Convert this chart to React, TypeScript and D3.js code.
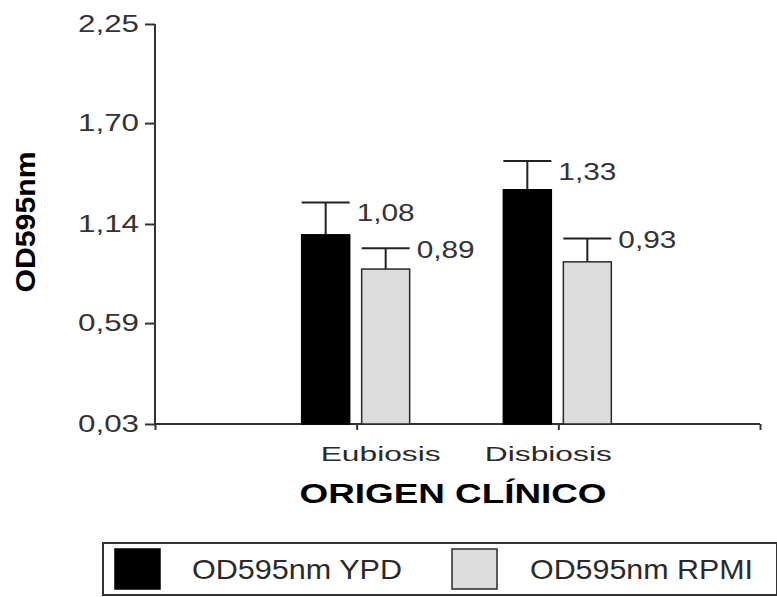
import React, { useEffect, useRef } from "react";
import * as d3 from "d3";

// chart values
const categories = ["Eubiosis", "Disbiosis"];
const seriesNames = ["OD595nm YPD", "OD595nm RPMI"];
const ypdValues = [1.08, 1.33];
const rpmiValues = [0.89, 0.93];
const ypdErrors = [0.18, 0.16];
const rpmiErrors = [0.115, 0.13];
const yTicks = [0.03, 0.59, 1.14, 1.7, 2.25];

const FONT = "'Liberation Sans', Arial, sans-serif";

export default function App() {
  const ref = useRef<SVGSVGElement>(null);

  useEffect(() => {
    const svg = d3.select(ref.current);
    svg.selectAll("*").remove();

    const fmt = d3.formatLocale({ decimal: ",", thousands: ".", grouping: [3], currency: ["", ""] }).format(".2f");

    // scales
    const y = d3.scaleLinear().domain([0.03, 2.25]).range([424, 24]);
    const x = d3.scaleLinear().domain([0, 3]).range([155, 760]);
    const sub = d3.scaleBand().domain(seriesNames).range([-55, 53]).paddingInner(0.2);

    const series = [
      { name: seriesNames[0], values: ypdValues, errors: ypdErrors, fill: "#000", stroke: "#000", labelDy: 19 },
      { name: seriesNames[1], values: rpmiValues, errors: rpmiErrors, fill: "#dcdcdc", stroke: "#2a2a2a", labelDy: 10 },
    ];

    // y axis
    const yAxis = svg.append("g").attr("transform", "translate(155,0)")
      .call(d3.axisLeft(y).tickValues(yTicks).tickSize(10).tickPadding(6).tickFormat((d) => fmt(d as number)));
    yAxis.select(".domain").attr("d", "M0,24V424").attr("stroke", "#333").attr("stroke-width", 2);
    yAxis.selectAll(".tick line").attr("stroke", "#333").attr("stroke-width", 2);
    yAxis.selectAll(".tick text")
      .attr("font-family", FONT).attr("font-size", 23).attr("fill", "#333")
      .attr("textLength", 61).attr("lengthAdjust", "spacingAndGlyphs");

    // x axis
    const xAxis = svg.append("g").attr("transform", "translate(0,424)")
      .call(d3.axisBottom(x).tickValues([0, 1, 2, 3]).tickSize(6).tickFormat(() => ""));
    xAxis.select(".domain").attr("d", "M155,0H760").attr("stroke", "#333").attr("stroke-width", 2);
    xAxis.selectAll(".tick line").attr("stroke", "#333").attr("stroke-width", 2);

    // category labels
    const catShift = [24, -10];
    const catLen = [120, 127];
    svg.append("g").selectAll("text").data(categories).join("text")
      .attr("x", (d, i) => x(i + 1) + catShift[i])
      .attr("y", 461)
      .attr("text-anchor", "middle")
      .attr("font-family", FONT).attr("font-size", 21).attr("fill", "#2a2a2a")
      .attr("textLength", (d, i) => catLen[i]).attr("lengthAdjust", "spacingAndGlyphs")
      .text((d) => d);

    // bars, error bars, value labels
    series.forEach((s) => {
      const g = svg.append("g");
      const bx = (i: number) => x(i + 1) + (sub(s.name) as number);
      const bw = sub.bandwidth();

      g.selectAll(".err").data(s.values).join("line")
        .attr("x1", (d, i) => bx(i) + bw / 2).attr("x2", (d, i) => bx(i) + bw / 2)
        .attr("y1", (d) => y(d)).attr("y2", (d, i) => y(d + s.errors[i]))
        .attr("stroke", "#222").attr("stroke-width", 2);
      g.selectAll(".cap").data(s.values).join("line")
        .attr("x1", (d, i) => bx(i)).attr("x2", (d, i) => bx(i) + bw)
        .attr("y1", (d, i) => y(d + s.errors[i])).attr("y2", (d, i) => y(d + s.errors[i]))
        .attr("stroke", "#222").attr("stroke-width", 2);

      g.selectAll("rect").data(s.values).join("rect")
        .attr("x", (d, i) => bx(i)).attr("width", bw)
        .attr("y", (d) => y(d)).attr("height", (d) => y(0.03) - y(d))
        .attr("fill", s.fill).attr("stroke", s.stroke).attr("stroke-width", 1.5);

      g.selectAll("text").data(s.values).join("text")
        .attr("x", (d, i) => bx(i) + bw + 7)
        .attr("y", (d, i) => y(d + s.errors[i]) + s.labelDy)
        .attr("font-family", FONT).attr("font-size", 23).attr("fill", "#333")
        .attr("textLength", 58).attr("lengthAdjust", "spacingAndGlyphs")
        .text((d) => fmt(d));
    });

    // axis titles
    svg.append("text")
      .attr("transform", "translate(35,222) rotate(-90)")
      .attr("text-anchor", "middle")
      .attr("font-family", FONT).attr("font-weight", "bold").attr("font-size", 27).attr("fill", "#000")
      .attr("textLength", 141).attr("lengthAdjust", "spacingAndGlyphs")
      .text("OD595nm");

    svg.append("text")
      .attr("x", 453).attr("y", 503)
      .attr("text-anchor", "middle")
      .attr("font-family", FONT).attr("font-weight", "bold").attr("font-size", 27).attr("fill", "#000")
      .attr("textLength", 307).attr("lengthAdjust", "spacingAndGlyphs")
      .text("ORIGEN CLÍNICO");

    // legend
    const legend = svg.append("g");
    legend.append("rect")
      .attr("x", 103).attr("y", 543).attr("width", 674).attr("height", 52)
      .attr("fill", "#fff").attr("stroke", "#333").attr("stroke-width", 2);
    const lx = [115, 452];
    const tx = [192, 530];
    const tl = [210, 223];
    series.forEach((s, i) => {
      legend.append("rect")
        .attr("x", lx[i]).attr("y", 549).attr("width", 45).attr("height", 40)
        .attr("fill", s.fill).attr("stroke", s.stroke).attr("stroke-width", 1.5);
      legend.append("text")
        .attr("x", tx[i]).attr("y", 579)
        .attr("font-family", FONT).attr("font-size", 28).attr("fill", "#2a2a2a")
        .attr("textLength", tl[i]).attr("lengthAdjust", "spacingAndGlyphs")
        .text(s.name);
    });
  }, []);

  return (
    <svg
      ref={ref}
      width={777}
      height={597}
      style={{ position: "absolute", left: 0, top: 0, background: "#fff" }}
    />
  );
}
